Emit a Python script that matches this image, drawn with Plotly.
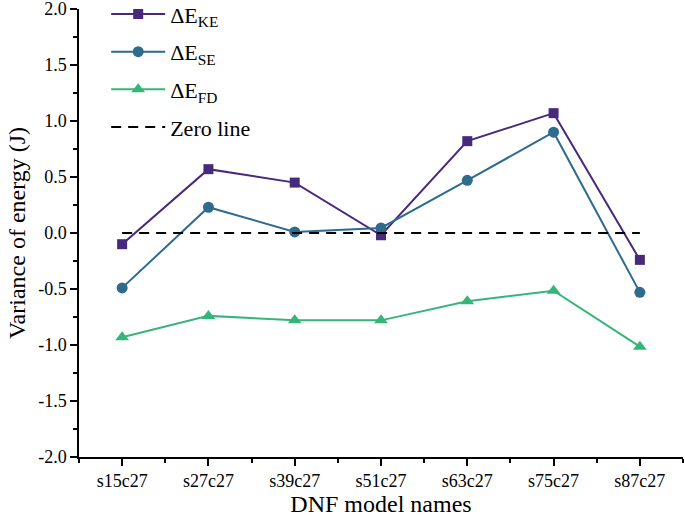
import plotly.graph_objects as go

categories = ["s15c27", "s27c27", "s39c27", "s51c27", "s63c27", "s75c27", "s87c27"]
dE_KE = [-0.10, 0.57, 0.45, -0.02, 0.82, 1.07, -0.24]
dE_SE = [-0.49, 0.23, 0.01, 0.045, 0.47, 0.90, -0.53]
dE_FD = [-0.93, -0.74, -0.78, -0.78, -0.61, -0.515, -1.015]
zero_line = [0, 0, 0, 0, 0, 0, 0]
y_ticks = [-2.0, -1.5, -1.0, -0.5, 0.0, 0.5, 1.0, 1.5, 2.0]

xs = list(range(len(categories)))
FONT = "Times New Roman, Liberation Serif, DejaVu Serif, serif"

fig = go.Figure()
fig.add_trace(go.Scatter(x=xs, y=dE_KE, mode="lines+markers", name="ΔE<sub>KE</sub>",
                         legendgroup="ke",
                         line=dict(color="#472a7c", width=2),
                         marker=dict(symbol="square", size=10, color="#472a7c")))
fig.add_trace(go.Scatter(x=xs, y=dE_SE, mode="lines+markers", name="ΔE<sub>SE</sub>",
                         legendgroup="se",
                         line=dict(color="#2e6b8e", width=2),
                         marker=dict(symbol="circle", size=11, color="#2e6b8e")))
fig.add_trace(go.Scatter(x=xs, y=dE_FD, mode="lines+markers", name="ΔE<sub>FD</sub>",
                         legendgroup="fd",
                         line=dict(color="#36b57a", width=2),
                         marker=dict(symbol="triangle-up", size=12, color="#36b57a")))
fig.add_trace(go.Scatter(x=xs, y=zero_line, mode="lines", name="Zero line",
                         legendgroup="zero",
                         line=dict(color="black", width=2, dash="10px,7px")))

fig.update_layout(
    width=685, height=518,
    margin=dict(l=79, r=2, t=9, b=61, autoexpand=False),
    paper_bgcolor="white", plot_bgcolor="white",
    font=dict(family=FONT, color="black", size=18),
    legend=dict(x=0.045, y=1.035, xanchor="left", yanchor="top",
                font=dict(family=FONT, size=22), itemwidth=54,
                traceorder="grouped", tracegroupgap=6,
                bgcolor="rgba(0,0,0,0)"),
    xaxis=dict(range=[-0.5, 6.5], tickmode="array", tickvals=xs, ticktext=categories,
               automargin=False, ticklabeloverflow="allow",
               showline=True, linecolor="black", linewidth=1.5, mirror=False,
               ticks="outside", ticklen=7, tickwidth=1.5, tickcolor="black",
               minor=dict(ticks="outside", ticklen=4, tickwidth=1.5, tickcolor="black",
                          tickmode="array", tickvals=[i + 0.5 for i in range(-1, 7)]),
               showgrid=False, zeroline=False,
               tickfont=dict(family=FONT, size=18),
               title=dict(text="DNF model names", font=dict(family=FONT, size=24), standoff=4)),
    yaxis=dict(range=[-2.0, 2.0], tickmode="array", tickvals=y_ticks,
               ticktext=[f"{v:.1f}" for v in y_ticks],
               automargin=False, ticklabeloverflow="allow",
               showline=True, linecolor="black", linewidth=1.5, mirror=False,
               ticks="outside", ticklen=7, tickwidth=1.5, tickcolor="black",
               minor=dict(ticks="outside", ticklen=4, tickwidth=1.5, tickcolor="black",
                          tickmode="array", tickvals=[-1.75, -1.25, -0.75, -0.25, 0.25, 0.75, 1.25, 1.75]),
               showgrid=False, zeroline=False,
               tickfont=dict(family=FONT, size=18),
               title=dict(text="Variance of energy (J)", font=dict(family=FONT, size=24), standoff=6)),
)

fig.write_html("out.html", config={"displayModeBar": False},
               post_script="document.body.style.margin='0';document.body.style.overflow='hidden';")
